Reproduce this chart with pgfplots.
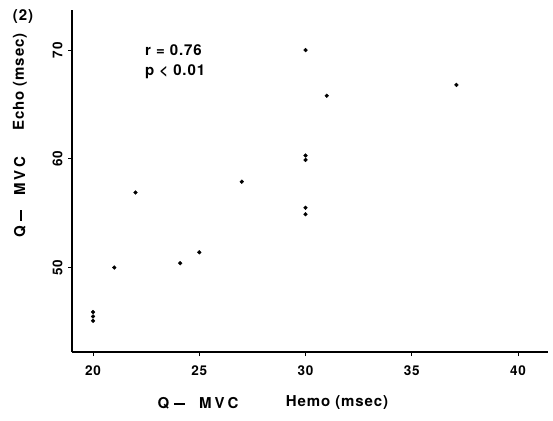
\documentclass[border=0pt]{standalone}
\usepackage{fontspec}
\setmainfont{TeX Gyre Heros}
\newfontfamily\lbl[LetterSpace=6]{TeX Gyre Heros}
\usepackage{pgfplots}
\pgfplotsset{compat=1.18}
\newcommand{\qmvc}{Q\hspace{5pt}\rule[3.5pt]{11pt}{2pt}\hspace{14pt}M\hspace{3pt}V\hspace{3pt}C}
\begin{document}
\begin{tikzpicture}
\useasboundingbox (-72pt,-68pt) rectangle (481pt,352pt);
\begin{axis}[
  at={(0pt,0pt)}, anchor=south west,
  scale only axis, width=476pt, height=342pt,
  xmin=19.01, xmax=41.41, ymin=42.23, ymax=73.69,
  axis x line*=bottom, axis y line*=left,
  axis line style={line width=1.3pt},
  xtick={20,25,30,35,40}, ytick={50,60,70},
  tick align=outside, major tick length=4pt,
  tick style={line width=0.9pt, black},
  /pgf/number format/assume math mode=true,
  ticklabel style={font=\lbl\fontsize{13.5}{15}\selectfont\bfseries},
  yticklabel style={rotate=90, anchor=south, yshift=2pt},
  xticklabel style={yshift=-6pt},
  clip=false,
]
\addplot[only marks, mark=*, mark size=1.9pt, black] coordinates {
(20,45.9) (20,45.5) (20,45.1) (21,50.0) (22,56.9) (24.1,50.4) (25,51.4)
(27,57.9) (30,70.0) (30,60.3) (30,59.9) (30,55.5) (30,54.9) (31,65.8) (37.1,66.8)
};
\end{axis}
\begin{scope}[every node/.style={font=\lbl\fontsize{15}{17}\selectfont\bfseries, inner sep=0pt}]
\node at (-49pt,335pt) {(2)};
\node[rotate=90] at (-52pt,155pt) {\qmvc};
\node[rotate=90] at (-52pt,270pt) {Echo (msec)};
\node at (126pt,-51pt) {\qmvc};
\node at (265pt,-51pt) {Hemo (msec)};
\node[anchor=west] at (73pt,302pt) {r = 0.76};
\node[anchor=west] at (73pt,280pt) {p < 0.01};
\end{scope}
\end{tikzpicture}
\end{document}
